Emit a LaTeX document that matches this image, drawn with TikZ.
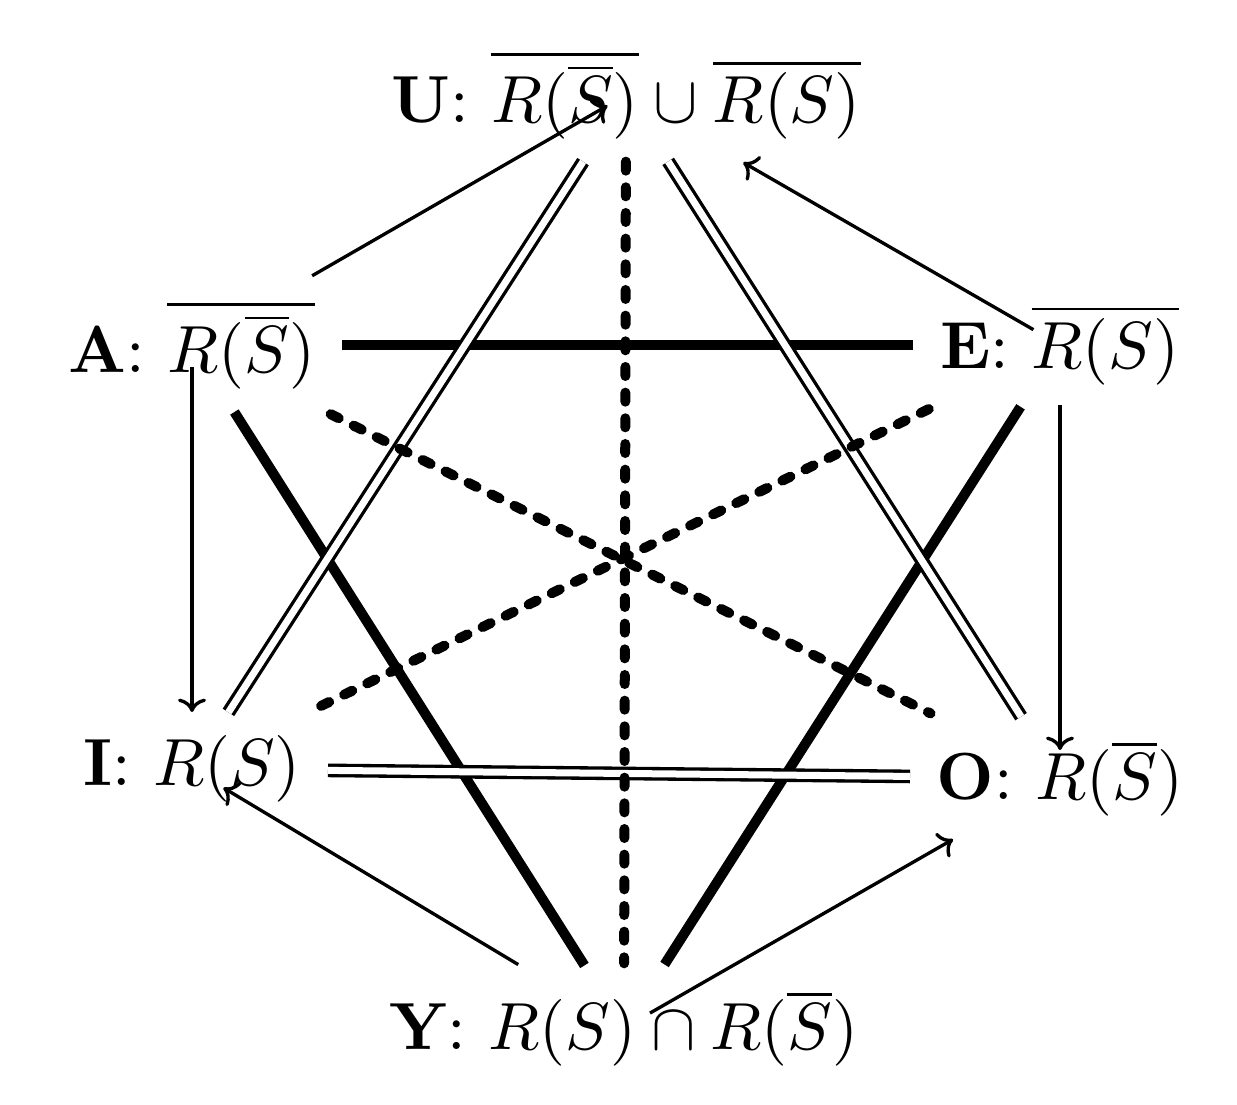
\documentclass[tikz,border=0pt]{standalone}
\usetikzlibrary{arrows.meta}
\begin{document}
\begin{tikzpicture}[x=0.15pt,y=-0.15pt,
  lbl/.style={inner sep=0pt},
  contr/.style={line width=1.5pt},
  cdash/.style={line width=1.5pt, line cap=round, dash pattern=on 1.35pt off 2.5pt},
  sub/.style={line width=0.5pt, double, double distance=1.05pt},
  implies/.style={line width=0.5pt, -{To[length=2pt,width=4.2pt]}}]
\useasboundingbox (0,0) rectangle (1237,1105);
\node[lbl] (U) at (626,95) {\textbf{U}: $\overline{R(\overline{S})}\cup\overline{R(S)}$};
\node[lbl] (A) at (192,345) {\textbf{A}: $\overline{R(\overline{S})}$};
\node[lbl] (E) at (1060,345) {\textbf{E}: $\overline{R(S)}$};
\node[lbl] (I) at (192,769) {\textbf{I}: $R(S)$};
\node[lbl] (O) at (1060,778) {\textbf{O}: $R(\overline{S})$};
\node[lbl] (Y) at (624,1028) {\textbf{Y}: $R(S)\cap R(\overline{S})$};
% contraries
\draw[contr, shorten <=22.5pt, shorten >=22pt] (A.center) -- (E.center);
\draw[contr, shorten <=11.9pt, shorten >=11.1pt] (A.center) -- (Y.center);
\draw[contr, shorten <=11pt, shorten >=11.3pt] (E.center) -- (Y.center);
% subcontraries
\draw[sub, shorten <=11.9pt, shorten >=10.1pt] (U.center) -- (I.center);
\draw[sub, shorten <=11.8pt, shorten >=10.9pt] (U.center) -- (O.center);
\draw[sub, shorten <=20.4pt, shorten >=22.5pt] (I.center) -- (O.center);
% contradictories
\draw[cdash, shorten <=10pt, shorten >=9.7pt] (U.center) -- (Y.center);
\draw[cdash, shorten <=23.25pt, shorten >=21.7pt] (A.center) -- (O.center);
\draw[cdash, shorten <=21.9pt, shorten >=19.6pt] (E.center) -- (I.center);
% implications
\draw[implies, shorten <=20.8pt, shorten >=3.2pt] (A.center) -- (U.center);
\draw[implies, shorten <=4.6pt, shorten >=20.3pt] (E.center) -- (U.center);
\draw[implies, shorten <=3.3pt, shorten >=8.55pt] (A.center) -- (I.center);
\draw[implies, shorten <=9pt, shorten >=4.2pt] (E.center) -- (O.center);
\draw[implies, shorten <=18.5pt, shorten >=5.5pt] (Y.center) -- (I.center);
\draw[implies, shorten <=4.5pt, shorten >=18.5pt] (Y.center) -- (O.center);
\end{tikzpicture}
\end{document}
